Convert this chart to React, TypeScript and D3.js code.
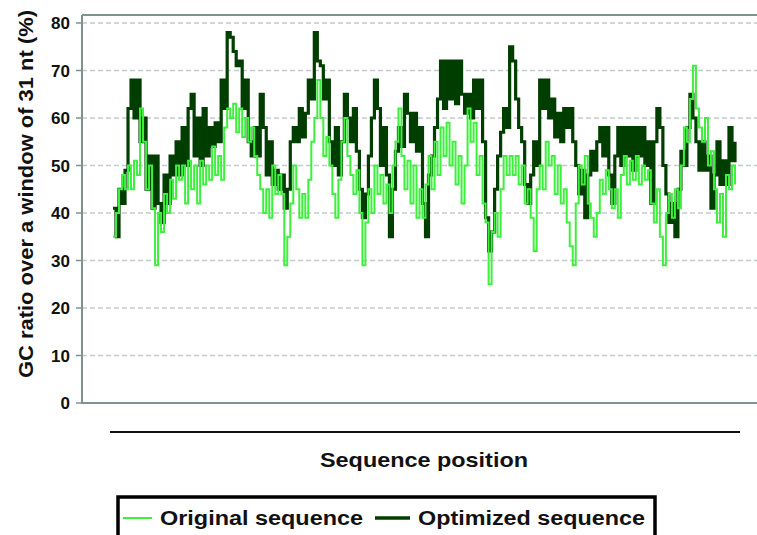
import React from "react";
import * as d3 from "d3";

const yTicks = [0, 10, 20, 30, 40, 50, 60, 70, 80];

const original = [
  35, 40, 45, 48, 45, 50, 45, 51, 48, 62, 55, 45, 50, 41, 29, 40, 36, 44, 40, 47,
  43, 50, 47, 50, 42, 51, 45, 50, 42, 51, 46, 50, 47, 54, 48, 52, 47, 58, 62, 60,
  63, 57, 62, 56, 60, 55, 58, 52, 48, 45, 40, 45, 39, 50, 44, 48, 44, 29, 35, 42,
  50, 45, 39, 44, 39, 47, 55, 60, 68, 60, 52, 56, 50, 44, 39, 47, 55, 60, 52, 48,
  44, 49, 40, 29, 38, 45, 40, 50, 44, 48, 42, 46, 40, 50, 55, 62, 52, 45, 51, 42,
  50, 39, 45, 39, 46, 52, 45, 55, 48, 58, 52, 59, 50, 55, 46, 52, 42, 50, 62, 55,
  59, 48, 52, 42, 38, 25, 36, 40, 35, 45, 52, 48, 52, 48, 52, 46, 50, 42, 45, 39,
  32, 45, 50, 45, 55, 50, 52, 44, 50, 42, 45, 38, 33, 29, 42, 50, 46, 52, 42, 39,
  35, 40, 47, 44, 49, 45, 41, 45, 39, 48, 52, 46, 51, 47, 52, 46, 50, 47, 49, 42,
  38, 45, 35, 29, 40, 44, 39, 45, 41, 50, 58, 55, 64, 71, 62, 58, 55, 60, 50, 53,
  45, 38, 44, 35, 48, 45, 50, 46,
];

const optimized = [
  41, 35, 45, 42, 49, 62, 68, 60, 68, 55, 60, 45, 52, 41, 52, 42, 38, 48, 42, 52,
  48, 55, 48, 58, 50, 62, 65, 52, 60, 50, 62, 52, 58, 54, 59, 55, 68, 62, 78, 77,
  74, 71, 72, 62, 68, 55, 52, 58, 52, 65, 58, 48, 55, 46, 49, 45, 48, 41, 45, 55,
  58, 55, 62, 56, 61, 68, 64, 78, 72, 71, 64, 68, 55, 50, 58, 48, 55, 65, 60, 55,
  62, 53, 45, 39, 44, 52, 60, 68, 62, 50, 58, 48, 35, 45, 53, 58, 54, 65, 61, 55,
  61, 53, 58, 42, 35, 48, 52, 58, 64, 72, 62, 72, 64, 72, 63, 72, 65, 61, 65, 60,
  68, 62, 68, 55, 39, 32, 36, 45, 52, 57, 62, 58, 75, 72, 64, 58, 55, 46, 42, 48,
  55, 50, 68, 62, 68, 60, 64, 56, 61, 55, 62, 58, 62, 55, 50, 44, 49, 39, 48, 53,
  49, 55, 58, 52, 58, 48, 42, 52, 58, 50, 58, 52, 58, 49, 58, 52, 58, 50, 55, 42,
  55, 62, 58, 50, 44, 38, 42, 35, 45, 53, 50, 58, 65, 60, 55, 49, 55, 49, 52, 41,
  48, 55, 46, 51, 46, 58, 51, 55,
];

const seriesNames = ["Original sequence", "Optimized sequence"];
const seriesColors = ["#3cf03c", "#003e00"];

export default function App() {
  const W = 757;
  const H = 535;
  const left = 82;
  const top = 15;
  const bottom = 403;

  const x = d3.scaleLinear().domain([0, original.length - 1]).range([113, 735]);
  const y = d3.scaleLinear().domain([0, 80]).range([bottom, 23]);

  const line = d3
    .line<number>()
    .x((_, i) => x(i))
    .y((d) => y(d))
    .curve(d3.curveStepAfter);

  const font = "'Liberation Sans', Arial, sans-serif";
  const axisColor = "#7f9292";

  return (
    <svg
      width={W}
      height={H}
      style={{ position: "absolute", left: 0, top: 0, background: "#fff" }}
      fontFamily={font}
    >
      {/* grid */}
      {yTicks.slice(1).map((t) => (
        <line
          key={"g" + t}
          x1={left}
          x2={W}
          y1={y(t)}
          y2={y(t)}
          stroke="#c3cccc"
          strokeWidth={1.5}
          strokeDasharray="5,3"
        />
      ))}
      {/* frame top */}
      <line x1={left} x2={W} y1={top} y2={top} stroke={axisColor} strokeWidth={2} />
      {/* y axis */}
      <line x1={left} x2={left} y1={top} y2={bottom + 1} stroke={axisColor} strokeWidth={2} />
      <line x1={left} x2={W} y1={bottom} y2={bottom} stroke={axisColor} strokeWidth={2} />
      {yTicks.map((t) => (
        <g key={"t" + t}>
          <line x1={76} x2={left} y1={y(t)} y2={y(t)} stroke={axisColor} strokeWidth={1.5} />
          <text
            x={70}
            y={y(t)}
            dy="0.36em"
            textAnchor="end"
            fontSize={17}
            fontWeight="bold"
            fill="#111"
          >
            {t}
          </text>
        </g>
      ))}
      {/* series */}
      <path d={line(optimized) || ""} fill="none" stroke={seriesColors[1]} strokeWidth={3.2} />
      <path d={line(original) || ""} fill="none" stroke={seriesColors[0]} strokeWidth={2} />

      {/* y title */}
      <text
        transform="translate(33,194) rotate(-90)"
        textAnchor="middle"
        fontSize={20}
        fontWeight="bold"
        fill="#111"
        textLength={368}
        lengthAdjust="spacingAndGlyphs"
      >
        GC ratio over a window of 31 nt (%)
      </text>

      {/* x category line */}
      <line x1={110} x2={740} y1={432} y2={432} stroke="#111" strokeWidth={2} />
      <text
        x={424}
        y={467}
        textAnchor="middle"
        fontSize={21}
        fontWeight="bold"
        fill="#111"
        textLength={208}
        lengthAdjust="spacingAndGlyphs"
      >
        Sequence position
      </text>

      {/* legend */}
      <rect x={118} y={497} width={537} height={60} fill="none" stroke="#000" strokeWidth={3.5} />
      <line x1={123} x2={152} y1={518} y2={518} stroke={seriesColors[0]} strokeWidth={2} />
      <text
        x={160}
        y={525}
        fontSize={20}
        fontWeight="bold"
        fill="#111"
        textLength={203}
        lengthAdjust="spacingAndGlyphs"
      >
        {seriesNames[0]}
      </text>
      <line x1={375} x2={410} y1={518} y2={518} stroke={seriesColors[1]} strokeWidth={3.5} />
      <text
        x={418}
        y={525}
        fontSize={20}
        fontWeight="bold"
        fill="#111"
        textLength={227}
        lengthAdjust="spacingAndGlyphs"
      >
        {seriesNames[1]}
      </text>
    </svg>
  );
}
